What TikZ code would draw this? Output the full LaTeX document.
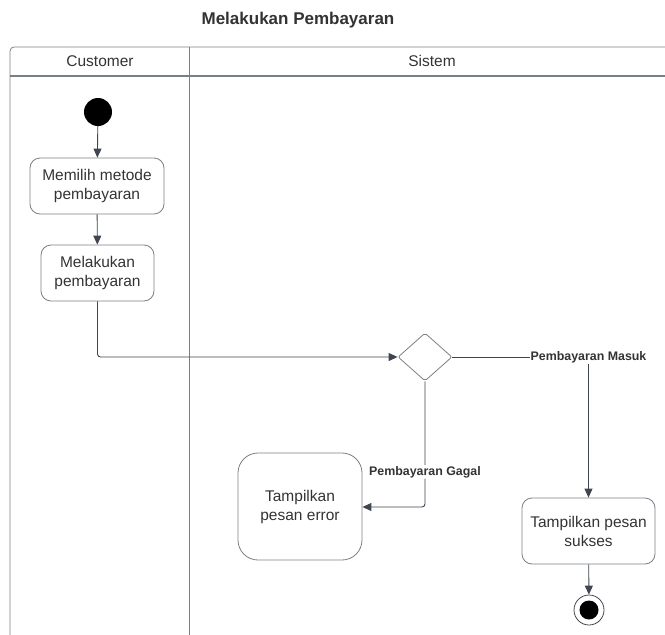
\documentclass[tikz,border=0pt]{standalone}
\usepackage{fontspec}
\setmainfont{Liberation Sans}
\usetikzlibrary{shapes.geometric,arrows.meta}
\definecolor{ln}{HTML}{3F4650}
\definecolor{bd}{HTML}{7A7F86}
\definecolor{tx}{HTML}{333333}
\begin{document}
\begin{tikzpicture}[x=1pt,y=-1pt,
  actbox/.style={draw=bd,line width=0.8pt,rounded corners=10pt,align=center,text=tx,font=\fontsize{15.5}{19}\selectfont,inner sep=0pt},
  conn/.style={draw=ln,line width=0.9pt},
  arr/.style={conn,-{Triangle[length=9pt,width=8pt]}},
  lbl/.style={fill=white,text=tx,font=\bfseries\fontsize{12.4}{14}\selectfont,inner sep=1pt},
  lane/.style={draw=bd,line width=0.8pt}]
\useasboundingbox (0,0) rectangle (665,635);
% title
\node[text=tx,font=\bfseries\fontsize{17}{20}\selectfont] (title) at (298,20) {Melakukan Pembayaran};
% swimlanes
\draw[lane,rounded corners=4pt] (10,635) -- (10,47) -- (665,47);
\draw[lane] (189,47) -- (189,635);
\draw[draw=bd,line width=1.6pt] (10,76) -- (665,76);
\node[text=tx,font=\fontsize{15.5}{18}\selectfont] (lc) at (100,61) {Customer};
\node[text=tx,font=\fontsize{15.5}{18}\selectfont] (ls) at (432,61) {Sistem};
% nodes
\node[circle,fill=black,minimum size=28pt,inner sep=0pt] (start) at (98,112) {};
\node[actbox,minimum width=134pt,minimum height=56pt] (b1) at (97,186) {Memilih metode\\pembayaran};
\node[actbox,minimum width=113pt,minimum height=56pt] (b2) at (97.5,273) {Melakukan\\pembayaran};
\node[diamond,draw=bd,line width=0.8pt,minimum width=54pt,minimum height=48pt,inner sep=0pt,rounded corners=2pt] (dec) at (425,357) {};
\node[actbox,rounded corners=20pt,minimum width=124pt,minimum height=107pt] (err) at (300,506.5) {Tampilkan\\pesan error};
\node[actbox,minimum width=133pt,minimum height=66pt] (ok) at (588.5,531) {Tampilkan pesan\\sukses};
\node[circle,draw=ln,line width=0.8pt,minimum size=30pt,inner sep=0pt] (end) at (589,610) {};
\node[circle,fill=black,minimum size=19pt,inner sep=0pt] (endin) at (end) {};
% connectors
\draw[arr] (start) -- (b1);
\draw[arr] (b1) -- (b2);
\draw[arr,rounded corners=3pt] (b2.south) |- (dec.west);
\draw[arr] (dec.east) -| (ok.north) node[lbl,pos=0.5] (lm) {Pembayaran Masuk};
\draw[arr,rounded corners=3pt] (dec.south) |- (err.east |- 0,507) node[lbl,pos=0.36] (lg) {Pembayaran Gagal};
\draw[arr] (ok) -- (end);
\end{tikzpicture}
\end{document}
